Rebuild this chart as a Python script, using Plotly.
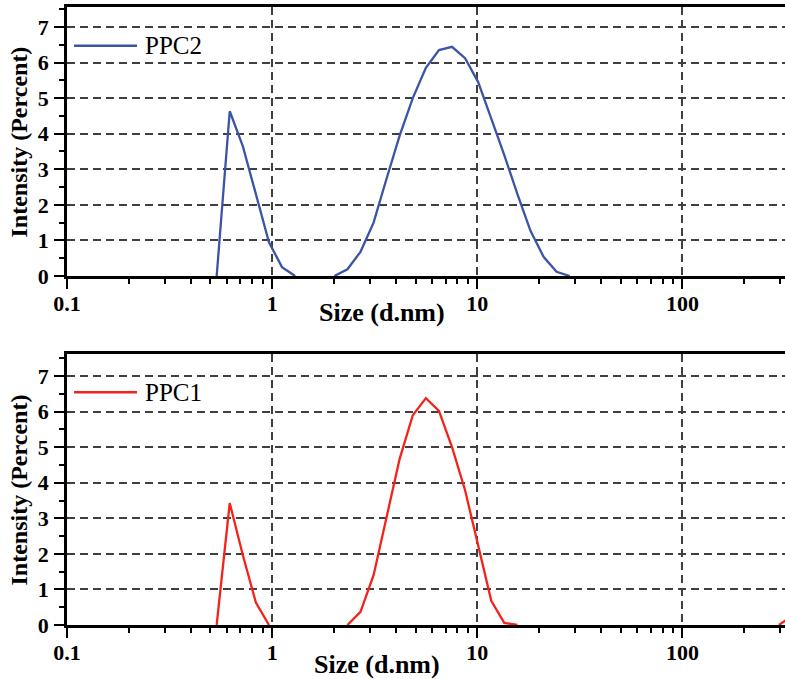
import plotly.graph_objects as go

# Malvern size classes (d.nm) and intensity distributions (%)
sizes = [0.5365, 0.6213, 0.7195, 0.8332, 0.9649, 1.117, 1.294, 1.499, 1.736,
         2.010, 2.328, 2.696, 3.122, 3.615, 4.187, 4.849, 5.615, 6.503, 7.531,
         8.721, 10.10, 11.70, 13.54, 15.69, 18.17, 21.04, 24.36, 28.21, 32.67,
         37.84, 43.82, 50.75, 58.77, 68.06, 78.82, 91.28, 105.7, 122.4, 141.8,
         164.2, 190.1, 220.2, 255.0, 295.3, 342.0]

ppc2 = [0, 4.63, 3.65, 2.3, 0.95, 0.25, 0, None, None,
        0, 0.19, 0.68, 1.5, 2.74, 3.95, 5.0, 5.85, 6.35, 6.44,
        6.12, 5.45, 4.42, 3.4, 2.3, 1.27, 0.54, 0.12, 0, None,
        None, None, None, None, None, None, None, None, None, None,
        None, None, None, None, None, None]

ppc1 = [0, 3.43, 1.97, 0.63, 0, None, None, None, None,
        None, 0, 0.37, 1.4, 3.0, 4.68, 5.9, 6.38, 6.02, 5.0,
        3.79, 2.25, 0.68, 0.06, 0, None, None, None, None, None,
        None, None, None, None, None, None, None, None, None, None,
        None, None, None, None, 0, 0.25]

x_ticks = [0.1, 1, 10, 100]
x_ticktext = ["0.1", "1", "10", "100"]
x_minor = [0.2, 0.3, 0.4, 0.5, 0.6, 0.7, 0.8, 0.9,
           2, 3, 4, 5, 6, 7, 8, 9,
           20, 30, 40, 50, 60, 70, 80, 90, 200, 300]
y_ticks = [0, 1, 2, 3, 4, 5, 6, 7]

SERIF = "Liberation Serif"
tickfont = dict(family=SERIF, size=22, color="black", weight="bold")
GRID = "#3f3f3f"

fig = go.Figure()
fig.add_trace(go.Scatter(x=sizes, y=ppc2, mode="lines", name="PPC2",
                         line=dict(color="#3b54a6", width=2.3),
                         connectgaps=False, xaxis="x", yaxis="y"))
fig.add_trace(go.Scatter(x=sizes, y=ppc1, mode="lines", name="PPC1",
                         line=dict(color="#f2231c", width=2.3),
                         connectgaps=False, xaxis="x2", yaxis="y2"))

xstyle = dict(
    type="log", range=[-1, 2.5], domain=[0, 1],
    tickmode="array", tickvals=x_ticks, ticktext=x_ticktext,
    ticks="outside", ticklen=10, tickwidth=2, tickcolor="black",
    showline=True, linewidth=2.5, linecolor="black", mirror=True,
    showgrid=True, gridcolor=GRID, gridwidth=1.5, griddash="8px,5px",
    zeroline=False, tickfont=tickfont, ticklabelstandoff=-4,
    minor=dict(tickmode="array", tickvals=x_minor, ticks="outside",
               ticklen=5, tickwidth=1.5, tickcolor="black", showgrid=False),
)
ystyle = dict(
    tickmode="array", tickvals=y_ticks,
    ticks="outside", ticklen=10, tickwidth=2, tickcolor="black",
    showline=True, linewidth=2.5, linecolor="black", mirror=False,
    showgrid=True, gridcolor=GRID, gridwidth=1.5, griddash="8px,5px",
    zeroline=False, tickfont=tickfont, ticklabelstandoff=1,
    minor=dict(dtick=0.5, tick0=0, ticks="outside", ticklen=5,
               tickwidth=1.5, tickcolor="black", showgrid=False),
)

fig.update_layout(
    width=785, height=679,
    margin=dict(l=67, r=0, t=7, b=54),
    paper_bgcolor="white", plot_bgcolor="white",
    showlegend=False,
    xaxis=dict(xstyle, anchor="y"),
    yaxis=dict(ystyle, range=[0, 7.56], domain=[0.5647, 1], anchor="x"),
    xaxis2=dict(xstyle, anchor="y2"),
    yaxis2=dict(ystyle, range=[0, 7.62], domain=[0, 0.4385], anchor="x2"),
)

# axis titles
for yref, xr, tx, ty in [("y domain", "x domain", 0.4387, -0.134),
                         ("y2 domain", "x2 domain", 0.4318, -0.144)]:
    fig.add_annotation(text="<b>Size (d.nm)</b>", xref=xr, yref=yref,
                       x=tx, y=ty, showarrow=False, xanchor="center",
                       yanchor="middle", font=dict(family=SERIF, size=26, color="black"))
    fig.add_annotation(text="<b>Intensity (Percent)</b>", xref="paper", yref=yref,
                       x=-0.0669, y=0.5, showarrow=False, textangle=-90,
                       xanchor="center", yanchor="middle",
                       font=dict(family=SERIF, size=24, color="black"))

# legends drawn inside each panel
for xr, yr, ly, label, color in [("x domain", "y domain", 0.856, "PPC2", "#3b54a6"),
                                 ("x2 domain", "y2 domain", 0.8587, "PPC1", "#f2231c")]:
    fig.add_shape(type="line", xref=xr, yref=yr, x0=0.0098, x1=0.0975,
                  y0=ly, y1=ly, line=dict(color=color, width=2.5))
    fig.add_annotation(text=label, xref=xr, yref=yr, x=0.1058, y=ly,
                       showarrow=False, xanchor="left", yanchor="middle",
                       font=dict(family=SERIF, size=25, color="black"))

fig.write_html("out.html",
               config={"displayModeBar": False},
               post_script="document.body.style.margin='0';"
                           "document.body.style.overflow='hidden';")
